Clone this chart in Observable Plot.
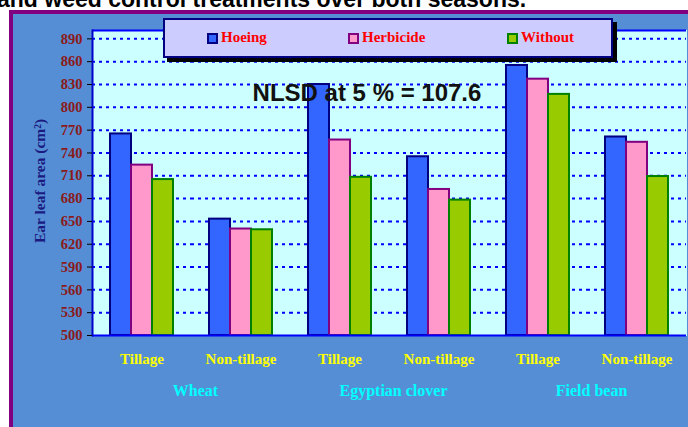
<!DOCTYPE html>
<html>
<head>
<meta charset="utf-8">
<script src="https://cdn.jsdelivr.net/npm/d3@7"></script>
<script src="https://cdn.jsdelivr.net/npm/@observablehq/plot@0.6"></script>
<style>
  html, body { margin: 0; padding: 0; }
  body { width: 688px; height: 427px; overflow: hidden; position: relative; background: #fff; }
  #title { position: absolute; left: -3px; top: -12px; font: bold 23px/23px "Liberation Sans", Arial, sans-serif; color: #000; white-space: nowrap; }
  #outer { position: absolute; left: 9px; top: 10px; width: 720px; height: 450px; border: 4px solid #800080; background: #558ed5; }
  #chart { position: absolute; left: 0; top: 0; }
  #legend { position: absolute; left: 163px; top: 18px; width: 446px; height: 36px; background: #ccccff; border: 2px solid #000080; box-shadow: 4px 4px 0 #000; }
  .sw { position: absolute; top: 13px; width: 7px; height: 7px; border: 2px solid; }
  .lb { position: absolute; top: 10px; font: bold 15px/15px "Liberation Serif", "Times New Roman", serif; color: #ff0000; white-space: nowrap; }
</style>
</head>
<body>
<div id="title"></div>
<div id="outer"></div>
<div id="chart"></div>
<div id="legend"></div>
<script>
// ---- data ----
const titleText = "and weed control treatments over both seasons.";
const groups = ["Wheat", "Egyptian clover", "Field bean"];
const systems = ["Tillage", "Non-tillage"];
const treatments = ["Hoeing", "Herbicide", "Without"];
const hoeing    = [765, 653, 830, 735, 855, 761];
const herbicide = [724, 640, 757, 692, 837, 754];
const without   = [705, 639, 708, 678, 817, 709];
const yTicks = [500, 530, 560, 590, 620, 650, 680, 710, 740, 770, 800, 830, 860, 890];
const yLabel = "Ear leaf area (cm\u00B2)";
const nlsdLabel = "NLSD at 5 % = 107.6";

// ---- styles ----
const fills   = {Hoeing: "#3366ff", Herbicide: "#ff99cc", Without: "#99cc00"};
const strokes = {Hoeing: "#000080", Herbicide: "#800080", Without: "#008000"};

document.getElementById("title").textContent = titleText;

const catKeys = groups.flatMap(g => systems.map(s => g + "|" + s));
const series = {Hoeing: hoeing, Herbicide: herbicide, Without: without};
const data = [];
catKeys.forEach((k, i) => treatments.forEach(t => data.push({cat: k, treat: t, value: series[t][i]})));

const yMin = yTicks[0];
const yMax = 901;
const serif = "'Liberation Serif', 'Times New Roman', serif";

const chart = Plot.plot({
  width: 688,
  height: 427,
  marginTop: 30,
  marginLeft: 90,
  marginRight: 1,
  marginBottom: 92,
  style: {background: "none", fontFamily: serif, overflow: "visible"},
  fx: {domain: catKeys, padding: 0, label: null},
  x: {domain: treatments, paddingInner: 0, paddingOuter: 0.76, axis: null},
  y: {domain: [yMin, yMax], label: null},
  marks: [
    Plot.frame({fill: "#ccffff", stroke: "#ccffff", strokeWidth: 1}),
    Plot.gridY(yTicks.slice(1), {stroke: "#0000ff", strokeOpacity: 1, strokeWidth: 2, strokeDasharray: "3,4"}),
    ...treatments.map(t => Plot.barY(data.filter(d => d.treat === t), {
      fx: "cat", x: "treat", y1: yMin, y2: "value", fill: fills[t], stroke: strokes[t], strokeWidth: 2
    })),
    Plot.ruleY([yMin], {stroke: "#0000ff", strokeWidth: 2}),
    Plot.ruleY([yMax], {stroke: "#0000ff", strokeWidth: 2}),
    Plot.frame({anchor: "left", stroke: "#0000cc", strokeWidth: 2, fx: () => catKeys[0]}),
    Plot.axisY({ticks: yTicks, tickSize: 5, tickPadding: 5, fontSize: 14.5, fontWeight: "bold",
      fill: "#8b1a1a", stroke: "#000", label: null}),
    Plot.axisFx({anchor: "bottom", tickSize: 0, tickPadding: 18, fontSize: 15, fontWeight: "bold",
      fill: "#ffff00", tickFormat: k => k.split("|")[1], label: null}),
    Plot.text(groups, {fx: g => g + "|" + systems[0], frameAnchor: "bottom-right", textAnchor: "middle",
      dy: 60, dx: 4, fontSize: 16, fontWeight: "bold", fill: "#00ffff"}),
    Plot.text([nlsdLabel], {fx: () => catKeys[2], y: () => 819, text: d => d, dx: 27,
      fontSize: 24, fontWeight: "bold", fill: "#111", fontFamily: "'Liberation Sans', Arial, sans-serif"}),
    Plot.text([yLabel], {fx: () => catKeys[0], frameAnchor: "left", textAnchor: "middle", text: d => d,
      rotate: -90, dx: -52, dy: -2, fontSize: 15.5, fontWeight: "bold", fill: "#1a1a80"})
  ]
});
document.getElementById("chart").append(chart);

// ---- legend ----
const legend = document.getElementById("legend");
const swLeft = [42, 183, 342];
treatments.forEach((t, i) => {
  const sw = document.createElement("div");
  sw.className = "sw";
  sw.style.left = swLeft[i] + "px";
  sw.style.background = fills[t];
  sw.style.borderColor = strokes[t];
  legend.append(sw);
  const lb = document.createElement("div");
  lb.className = "lb";
  lb.style.left = (swLeft[i] + 14) + "px";
  lb.textContent = t;
  legend.append(lb);
});
</script>
</body>
</html>
